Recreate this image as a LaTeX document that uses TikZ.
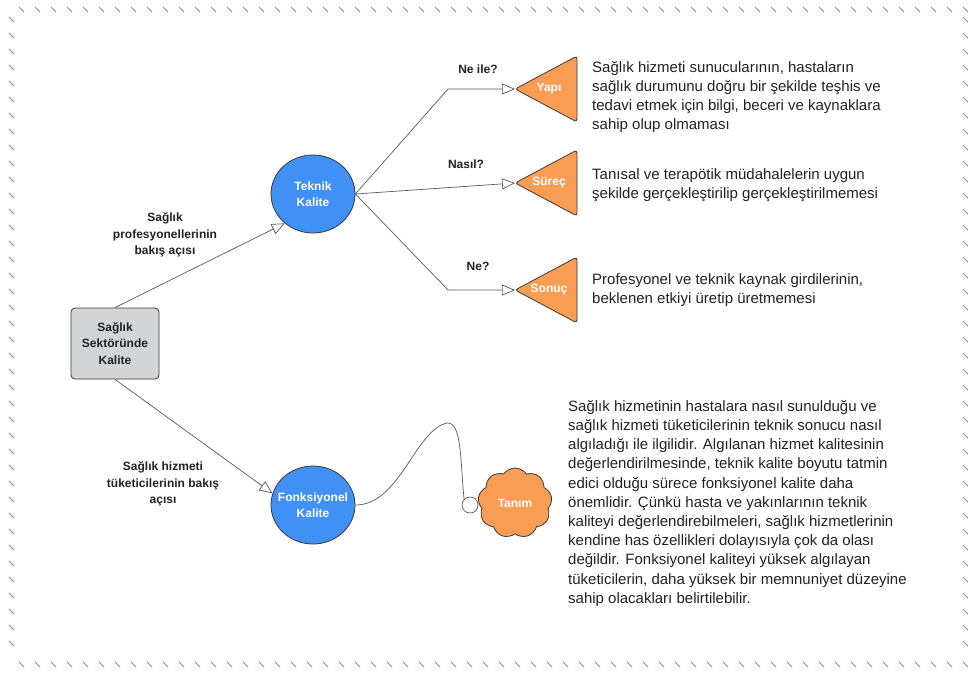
\documentclass[tikz,border=0pt]{standalone}
\usepackage{fontspec}
\setmainfont{Liberation Sans}
\usetikzlibrary{arrows.meta,shapes.geometric,shapes.symbols}
\definecolor{kblue}{HTML}{4190F5}
\definecolor{korange}{HTML}{F99D55}
\definecolor{kgray}{HTML}{D3D4D6}
\definecolor{kline}{HTML}{3A3A3A}
\definecolor{ktext}{HTML}{222222}
\begin{document}
\begin{tikzpicture}[x=1pt, y=-1pt,
    lbl/.style = {font=\fontsize{12}{16.5}\selectfont\bfseries, align=center, text=ktext, inner sep=0},
    txt/.style = {font=\fontsize{15}{19.2}\selectfont, align=left, text=ktext, inner sep=0, anchor=north west},
    main/.style = {lbl, draw=kline, line width=0.8pt, ellipse, inner xsep=-14pt, fill=kblue, text=white, minimum width=84pt, minimum height=78pt},
    box/.style = {lbl, draw=kline, line width=0.8pt, rectangle, rounded corners=4pt, fill=kgray, minimum width=88pt, minimum height=71pt},
    tri/.style = {draw=kline, line width=0.8pt, fill=korange, rounded corners=3pt},
    arr/.style = {draw=black!65, line width=0.7pt, -{Triangle[open, length=13pt, width=11pt]}},
    link/.style = {draw=black!65, line width=0.7pt},
    tick/.style = {draw=black!45, line width=0.8pt}]
    \fill[white] (0,0) rectangle (968,673);
    \useasboundingbox (0,0) rectangle (968,673);
    % dotted frame
    \foreach \x in {19,35,...,963} {
        \draw[tick] (\x,7) -- ++(5,5);
        \draw[tick] (\x,662) -- ++(5,5);
    }
    \foreach \y in {17,33,...,655} {
        \draw[tick] (9,\y) -- ++(5,5);
        \draw[tick] (963,\y) -- ++(5,5);
    }
    \node[box] (1) at (115,343.5) {Sağlık\\Sektöründe\\Kalite};
    \node[main] (2) at (313,194) {Teknik\\Kalite};
    \node[main] (5) at (313,505) {Fonksiyonel\\Kalite};
    % triangles
    \foreach \n/\y/\t in {3/89/Yapı, 4/183/Süreç, 6/290/Sonuç} {
        \filldraw[tri] (515,\y) coordinate (tip\n) -- (577,\y-33) -- (577,\y+33) -- cycle;
        \node[lbl, text=white] (\n) at (549,\y) {\t};
    }
    \node[cloud, cloud puffs=9, cloud puff arc=110, aspect=1.05, lbl, draw=kline, line width=0.8pt, fill=korange, text=white, minimum width=74pt, minimum height=70pt] (8) at (515,503) {Tanım};
    \node[circle, draw=black!65, line width=0.7pt, fill=white, minimum size=16pt, inner sep=0] (7) at (470,505) {};
    \coordinate (peak) at (447,423);
    % labels
    \node[lbl] (p) at (165,235) {Sağlık\\profesyonellerinin\\bakış açısı};
    \node[lbl] (t) at (163,484) {Sağlık hizmeti\\tüketicilerinin bakış\\açısı};
    \node[lbl] (q1) at (478,69) {Ne ile?};
    \node[lbl] (q2) at (466,164) {Nasıl?};
    \node[lbl] (q3) at (478,266) {Ne?};
    % texts
    \node[txt] (d3) at (592,61) {Sağlık hizmeti sunucularının, hastaların\\sağlık durumunu doğru bir şekilde teşhis ve\\tedavi etmek için bilgi, beceri ve kaynaklara\\sahip olup olmaması};
    \node[txt] (d4) at (592,168) {Tanısal ve terapötik müdahalelerin uygun\\şekilde gerçekleştirilip gerçekleştirilmemesi};
    \node[txt] (d6) at (592,273) {Profesyonel ve teknik kaynak girdilerinin,\\beklenen etkiyi üretip üretmemesi};
    \node[txt] (d8) at (568,400) {Sağlık hizmetinin hastalara nasıl sunulduğu ve\\sağlık hizmeti tüketicilerinin teknik sonucu nasıl\\algıladığı ile ilgilidir. Algılanan hizmet kalitesinin\\değerlendirilmesinde, teknik kalite boyutu tatmin\\edici olduğu sürece fonksiyonel kalite daha\\önemlidir. Çünkü hasta ve yakınlarının teknik\\kaliteyi değerlendirebilmeleri, sağlık hizmetlerinin\\kendine has özellikleri dolayısıyla çok da olası\\değildir. Fonksiyonel kaliteyi yüksek algılayan\\tüketicilerin, daha yüksek bir memnuniyet düzeyine\\sahip olacakları belirtilebilir.};
    % connectors
    \draw[arr] (1.north) -- (2.226);
    \draw[arr] (1.south) -- (5.164);
    \draw[arr] (2.east) -- ([xshift=-67pt]tip3) -- (tip3);
    \draw[arr] (2.east) -- (tip4);
    \draw[arr] (2.east) -- ([xshift=-67pt]tip6) -- (tip6);
    \draw[link] (5.east) .. controls (400,505) and (415,430) .. (peak) .. controls (462,422) and (460,460) .. (7.135);
\end{tikzpicture}
\end{document}
